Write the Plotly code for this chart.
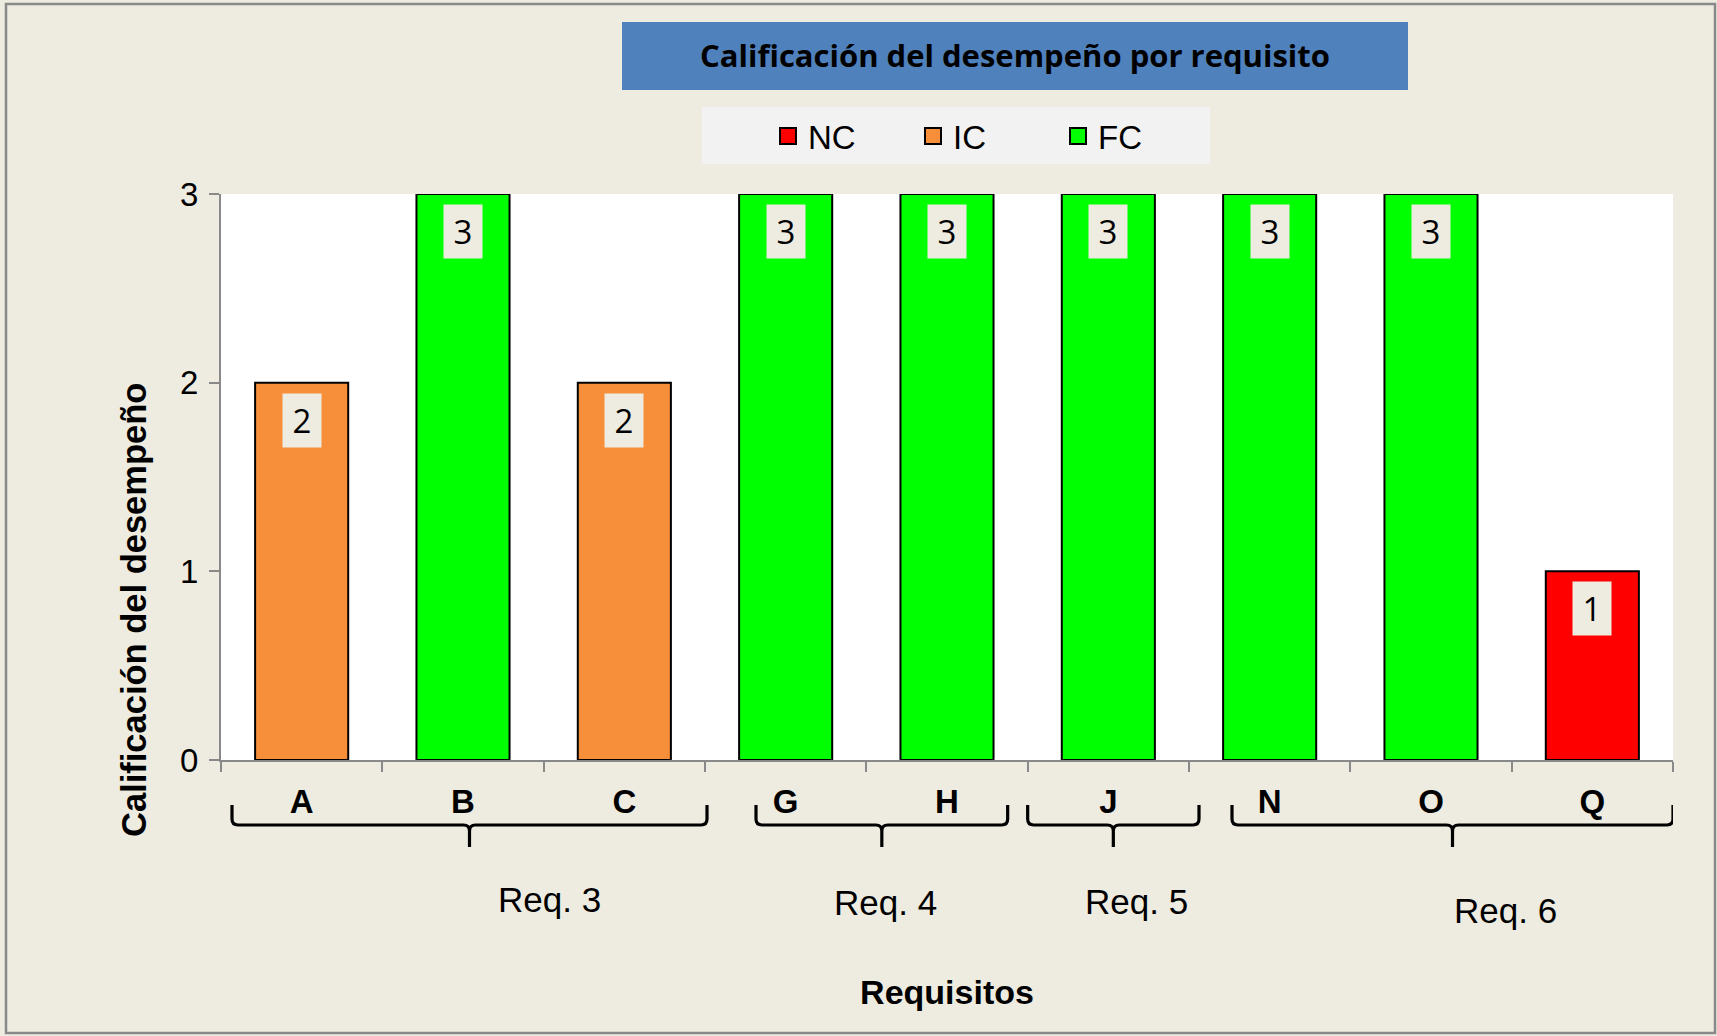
import plotly.graph_objects as go

# ---------------- data ----------------
categories = ["A", "B", "C", "G", "H", "J", "N", "O", "Q"]
scores = [2, 3, 2, 3, 3, 3, 3, 3, 1]
levels = ["IC", "FC", "IC", "FC", "FC", "FC", "FC", "FC", "NC"]
level_names = ["NC", "IC", "FC"]
group_labels = ["Req. 3", "Req. 4", "Req. 5", "Req. 6"]
group_first = [0, 3, 5, 6]
group_last = [2, 4, 5, 8]
y_ticks = [0, 1, 2, 3]
chart_title = "Calificación del desempeño por requisito"
y_title = "Calificación del desempeño"
x_title = "Requisitos"

# ---------------- styling ----------------
level_colors = {"NC": "#FF0000", "IC": "#F78F3A", "FC": "#00FF00"}
PAPER_BG = "#EEECE1"
AXIS_GRAY = "#898989"
W, H = 1717, 1036
ML, MR, MT, MB = 221, 44, 194, 276
PW, PH = W - ML - MR, H - MT - MB
CW = PW / len(categories)
ARIAL = "Liberation Sans, Arial, sans-serif"
OPEN = "Open Sans, sans-serif"

# brace end insets in px (left, right) and label offsets in px
brace_insets = [(11, -2), (51, 20), (0, -10), (43, 0)]
label_xshift = [86, 19, 28, 74]
label_ycenter_px = [899, 902, 901, 910]


def px_x(px):
    return (px - ML) / PW


def px_y(py):
    return (H - MB - py) / PH


fig = go.Figure()

# bars, one trace per level
for lv in level_names:
    xs = [c for c, l in zip(categories, levels) if l == lv]
    ys = [s for s, l in zip(scores, levels) if l == lv]
    fig.add_trace(go.Bar(
        x=xs, y=ys, name=lv, showlegend=False,
        marker=dict(color=level_colors[lv], line=dict(color="black", width=2)),
        hoverinfo="x+y",
    ))

# legend entries (square markers)
for lv in level_names:
    fig.add_trace(go.Scatter(
        x=[None], y=[None], mode="markers", name=lv, xaxis="x2",
        marker=dict(symbol="square", size=18, color=level_colors[lv],
                    line=dict(color="black", width=2)),
    ))

annotations = []
# data labels
for c, s in zip(categories, scores):
    annotations.append(dict(
        x=c, y=s, xref="x", yref="y", text=str(s), showarrow=False,
        yanchor="top", yshift=-10, width=38, height=53, borderpad=0,
        bgcolor=PAPER_BG, font=dict(family=OPEN, size=33, color="black"),
    ))

# group labels and braces
shapes = []
yt, ym, yb = px_y(805), px_y(825), px_y(847)
cy = 6 / PH
rx = 6 / CW
for g, f, l, (il, ir), xs, yc in zip(group_labels, group_first, group_last,
                                      brace_insets, label_xshift, label_ycenter_px):
    L = f - 0.5 + il / CW
    R = l + 0.5 - ir / CW
    T = (L + R) / 2
    path = (f"M{L},{yt} L{L},{ym + cy} Q{L},{ym} {L + rx},{ym} L{T - rx},{ym} "
            f"Q{T},{ym} {T},{ym - cy} L{T},{yb} "
            f"M{T},{ym - cy} Q{T},{ym} {T + rx},{ym} L{R - rx},{ym} "
            f"Q{R},{ym} {R},{ym + cy} L{R},{yt}")
    shapes.append(dict(type="path", path=path, xref="x2", yref="paper",
                       line=dict(color="black", width=3.2)))
    annotations.append(dict(
        x=(f + l) / 2, y=px_y(yc), xref="x2", yref="paper", text=g,
        showarrow=False, xshift=xs, xanchor="center", yanchor="middle",
        font=dict(family=ARIAL, size=35, color="black"),
    ))

# y axis title
annotations.append(dict(
    x=px_x(134), y=px_y(610), xref="paper", yref="paper", text=f"<b>{y_title}</b>",
    textangle=-90, showarrow=False, xanchor="center", yanchor="middle",
    font=dict(family=ARIAL, size=34.5, color="black"),
))

# title box, legend box, outer border
shapes.append(dict(type="rect", xref="paper", yref="paper",
                   x0=px_x(622), x1=px_x(1408), y0=px_y(90), y1=px_y(22),
                   fillcolor="#4F81BD", line=dict(width=0), layer="below"))
shapes.append(dict(type="rect", xref="paper", yref="paper",
                   x0=px_x(702), x1=px_x(1210), y0=px_y(164), y1=px_y(107),
                   fillcolor="#F2F2F2", line=dict(width=0), layer="below"))
shapes.append(dict(type="rect", xref="paper", yref="paper",
                   x0=px_x(6), x1=px_x(1715), y0=px_y(1033), y1=px_y(4),
                   line=dict(color=AXIS_GRAY, width=2.5), layer="below"))

fig.update_layout(
    width=W, height=H,
    margin=dict(l=ML, r=MR, t=MT, b=MB),
    paper_bgcolor=PAPER_BG, plot_bgcolor="white",
    barmode="overlay", bargap=0.423,
    title=dict(text=f"<b>{chart_title}</b>", x=1015 / W, y=1 - 56 / H,
               xanchor="center", yanchor="middle", xref="container", yref="container",
               font=dict(family=OPEN, size=31, color="black")),
    legend=dict(orientation="h", x=px_x(768), y=px_y(136), xanchor="left",
                yanchor="middle", bgcolor="rgba(0,0,0,0)",
                font=dict(family=ARIAL, size=33, color="black"),
                entrywidth=100),
    xaxis=dict(type="category", categoryorder="array", categoryarray=categories,
               tickson="boundaries", ticks="outside", ticklen=10, tickwidth=2,
               tickcolor=AXIS_GRAY, showline=True, linecolor=AXIS_GRAY, linewidth=2,
               showgrid=False, ticklabelstandoff=11,
               tickfont=dict(family=ARIAL, size=33, color="black", weight="bold"),
               title=dict(text=f"<b>{x_title}</b>", standoff=162,
                          font=dict(family=ARIAL, size=34, color="black")),
               range=[-0.5, len(categories) - 0.5], fixedrange=True),
    xaxis2=dict(overlaying="x", range=[-0.5, len(categories) - 0.5], visible=False,
                fixedrange=True),
    yaxis=dict(range=[0, 3], tickvals=y_ticks, ticks="outside", ticklen=10, tickwidth=2,
               tickcolor=AXIS_GRAY, showline=True, linecolor=AXIS_GRAY, linewidth=2,
               showgrid=False, zeroline=False, ticklabelstandoff=4,
               tickfont=dict(family=ARIAL, size=33, color="black"), fixedrange=True),
    shapes=shapes, annotations=annotations,
)

fig.write_html("out.html", post_script="document.body.style.margin='0';",
               config={"displayModeBar": False})
